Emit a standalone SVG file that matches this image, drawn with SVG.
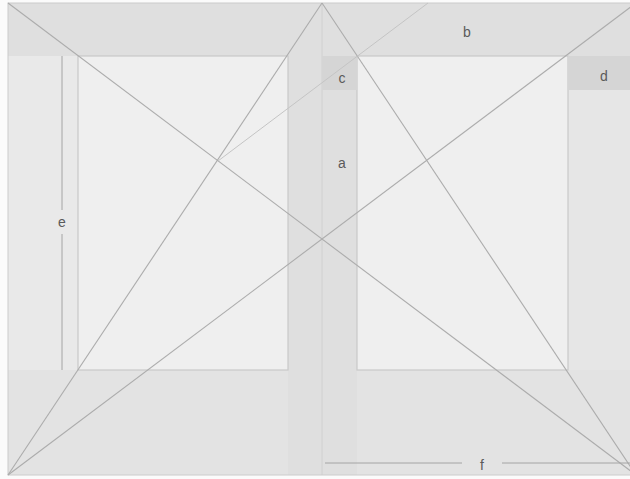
<svg xmlns="http://www.w3.org/2000/svg" width="630" height="479" viewBox="0 0 630 479">
<style>
.page{fill:#e3e3e3}
.band{fill:#dfdfdf}
.lm{fill:#e9e9e9}
.rm{fill:#e6e6e6}
.block{fill:#efefef;stroke:#c9c9c9;stroke-width:1.2}
.box{fill:#d5d5d5}
.ln{stroke:#acacac;stroke-width:1.1;fill:none}
.fl{stroke:#c4c4c4;stroke-width:1;fill:none}
.dim{stroke:#a4a4a4;stroke-width:1;fill:none}
.lbl{font-family:"Liberation Sans",Arial,sans-serif;font-size:14px;fill:#5a5a5a;text-anchor:middle}
</style>
<rect x="0" y="0" width="630" height="479" fill="#fbfbfb"/>
<g id="spread">
<rect class="page" x="8" y="3" width="630" height="472"/>
<rect class="lm" x="8" y="56" width="70" height="314"/>
<rect class="rm" x="568" y="90" width="70" height="280"/>
<rect class="band" x="8" y="3" width="630" height="53"/>
<rect class="band" x="288" y="56" width="69" height="419"/>
<line x1="322" y1="3" x2="322" y2="475" stroke="#d0d0d0" stroke-width="1"/>
<rect x="8" y="3" width="630" height="472" fill="none" stroke="#cccccc" stroke-width="1"/>
</g>
<g id="left-block"><rect class="block" x="78" y="56" width="210" height="314"/></g>
<g id="right-block"><rect class="block" x="357" y="56" width="211" height="314"/></g>
<g id="c-box"><rect class="box" x="322" y="56" width="35" height="34"/><text class="lbl" x="342" y="83">c</text></g>
<g id="d-box"><rect class="box" x="568" y="56" width="70" height="34"/><text class="lbl" x="604" y="81">d</text></g>
<g id="connectors">
<line class="ln" x1="8" y1="3" x2="636" y2="475"/>
<line class="ln" x1="8" y1="475" x2="636" y2="3"/>
<line class="ln" x1="8" y1="475" x2="322" y2="3"/>
<line class="ln" x1="322" y1="3" x2="636" y2="475"/>
<line class="fl" x1="218" y1="161" x2="428" y2="3"/>
<line class="dim" x1="62" y1="56" x2="62" y2="210"/>
<line class="dim" x1="62" y1="234" x2="62" y2="370"/>
<line class="dim" x1="325" y1="463" x2="462" y2="463"/>
<line class="dim" x1="502" y1="463" x2="630" y2="463"/>
</g>
<g id="labels">
<text class="lbl" x="342" y="168">a</text>
<text class="lbl" x="467" y="37">b</text>
<text class="lbl" x="62" y="227">e</text>
<text class="lbl" x="482" y="470">f</text>
</g>
</svg>
